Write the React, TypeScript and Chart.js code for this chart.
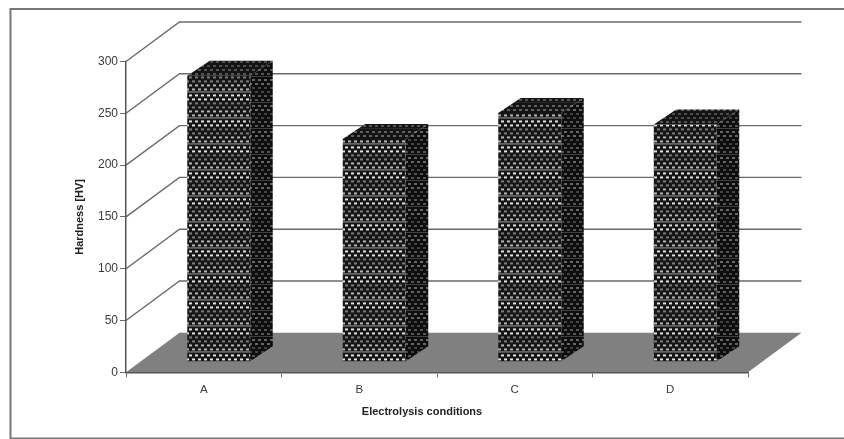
import { useEffect, useRef } from "react";
import { Chart, registerables } from "chart.js";

Chart.register(...registerables);

const categories = ["A", "B", "C", "D"];
const hardness = [276, 215, 240, 229];
const yTicks = [0, 50, 100, 150, 200, 250, 300];

const FONT = "'Liberation Sans', Arial, sans-serif";
const INK = "#3a3a3a";
const LINE = "#6a6a6a";

// Perspective of the box the bars stand in, and of the bars inside it.
const BOX_DX = 53.5;
const BOX_DY = -39.5;
const BAR_SHIFT_X = 15;
const BAR_SHIFT_Y = -10.6;
const BAR_DX = 22.5;
const BAR_DY = -15;

// Staggered dot screen with dimmer rows, used on all three visible bar faces.
function dotPattern(bg: string, bright: string, dim: string, mid: string, streak: string) {
  const w = 6;
  const h = 26;
  const rows = [bright, bright, dim, dim, mid, mid];
  const c = document.createElement("canvas");
  c.width = w;
  c.height = h;
  const g = c.getContext("2d")!;
  g.fillStyle = bg;
  g.fillRect(0, 0, w, h);
  rows.forEach((color, row) => {
    g.fillStyle = color;
    g.fillRect(row % 2 ? 3 : 0, row * 4 + 1, 3, 2);
  });
  g.fillStyle = streak;
  g.fillRect(0, 24, w, 1);
  return g.createPattern(c, "repeat")!;
}

export default function App() {
  const ref = useRef<HTMLCanvasElement>(null);

  useEffect(() => {
    const front = dotPattern("#161616", "#e2e2e2", "#7c7c7c", "#b4b4b4", "#a0a0a0");
    const side = dotPattern("#0e0e0e", "#666666", "#444444", "#555555", "#404040");
    const top = dotPattern("#141414", "#606060", "#4c4c4c", "#565656", "#2a2a2a");

    const boxPlugin = {
      id: "box",
      beforeDraw(chart: any) {
        const { ctx, chartArea: a, scales } = chart;
        const y = scales.y;
        ctx.save();

        // outer frame
        ctx.strokeStyle = "#777777";
        ctx.lineWidth = 2;
        ctx.strokeRect(10.5, 9, 860, 429.5);

        // floor
        ctx.beginPath();
        ctx.moveTo(a.left, a.bottom);
        ctx.lineTo(a.right, a.bottom);
        ctx.lineTo(a.right + BOX_DX, a.bottom + BOX_DY);
        ctx.lineTo(a.left + BOX_DX, a.bottom + BOX_DY);
        ctx.closePath();
        ctx.fillStyle = "#808080";
        ctx.fill();

        // grid lines run up the side wall and across the back wall
        ctx.strokeStyle = LINE;
        ctx.lineWidth = 1.4;
        for (const v of yTicks) {
          if (v === 0) continue;
          const p = y.getPixelForValue(v);
          ctx.beginPath();
          ctx.moveTo(a.left, p);
          ctx.lineTo(a.left + BOX_DX, p + BOX_DY);
          ctx.lineTo(a.right + BOX_DX, p + BOX_DY);
          ctx.stroke();
        }
        ctx.restore();
      },
      beforeDatasetDraw(chart: any) {
        chart.ctx.save();
        chart.ctx.translate(BAR_SHIFT_X, BAR_SHIFT_Y);
      },
      afterDatasetDraw(chart: any, args: any) {
        const { ctx } = chart;
        ctx.restore();
        ctx.save();
        for (const el of chart.getDatasetMeta(args.index).data) {
          const { x, y, base, width } = el.getProps(["x", "y", "base", "width"], true);
          const r = x + width / 2 + BAR_SHIFT_X;
          const l = x - width / 2 + BAR_SHIFT_X;
          const t = y + BAR_SHIFT_Y;
          const b = base + BAR_SHIFT_Y;

          ctx.fillStyle = side;
          ctx.beginPath();
          ctx.moveTo(r, t);
          ctx.lineTo(r + BAR_DX, t + BAR_DY);
          ctx.lineTo(r + BAR_DX, b + BAR_DY);
          ctx.lineTo(r, b);
          ctx.closePath();
          ctx.fill();

          ctx.fillStyle = top;
          ctx.beginPath();
          ctx.moveTo(l, t);
          ctx.lineTo(l + BAR_DX, t + BAR_DY);
          ctx.lineTo(r + BAR_DX, t + BAR_DY);
          ctx.lineTo(r, t);
          ctx.closePath();
          ctx.fill();
        }
        ctx.restore();
      },
    };

    const chart = new Chart(ref.current!, {
      type: "bar",
      data: {
        labels: categories,
        datasets: [
          {
            data: hardness,
            backgroundColor: front,
            borderWidth: 0,
            categoryPercentage: 1,
            barPercentage: 0.405,
          },
        ],
      },
      plugins: [boxPlugin],
      options: {
        animation: false,
        responsive: false,
        events: [],
        // Equal side padding keeps the bottom title centred on the page;
        // the spacer axis on the right pulls the plot back to its own width.
        layout: { padding: { left: 73, right: 73, top: 61.5, bottom: 0 } },
        plugins: {
          legend: { display: false },
          tooltip: { enabled: false },
          title: {
            display: true,
            position: "bottom",
            text: "Electrolysis conditions",
            color: "#222222",
            font: { family: FONT, size: 11, weight: "bold" },
            padding: { top: 0, bottom: 20 },
          },
        },
        scales: {
          x: {
            afterFit: (s: any) => {
              s.height = 33.5;
            },
            grid: { drawOnChartArea: false, color: LINE, tickLength: 5 },
            border: { color: "#555555", width: 1.5 },
            ticks: { color: INK, font: { family: FONT, size: 11.5 }, padding: 6, maxRotation: 0 },
          },
          y: {
            min: 0,
            max: 300,
            afterFit: (s: any) => {
              s.width = 53;
            },
            afterBuildTicks: (s: any) => {
              s.ticks = yTicks.map((value) => ({ value }));
            },
            grid: { drawOnChartArea: false, color: LINE, tickLength: 6 },
            border: { color: "#555555", width: 1.5 },
            title: {
              display: true,
              text: "Hardness [HV]",
              color: "#222222",
              font: { family: FONT, size: 11, weight: "bold" },
              padding: { top: 0, bottom: 0 },
            },
            ticks: { color: INK, font: { family: FONT, size: 12 }, padding: 2 },
          },
          spacer: {
            type: "linear",
            axis: "y",
            position: "right",
            afterFit: (s: any) => {
              s.width = 23;
            },
            grid: { display: false },
            border: { display: false },
            ticks: { display: false },
          },
        },
      },
    } as any);
    return () => chart.destroy();
  }, []);

  return (
    <div style={{ position: "fixed", left: 0, top: 0, width: 844, height: 439, background: "#fff" }}>
      <canvas ref={ref} width={844} height={439} style={{ display: "block" }} />
    </div>
  );
}
